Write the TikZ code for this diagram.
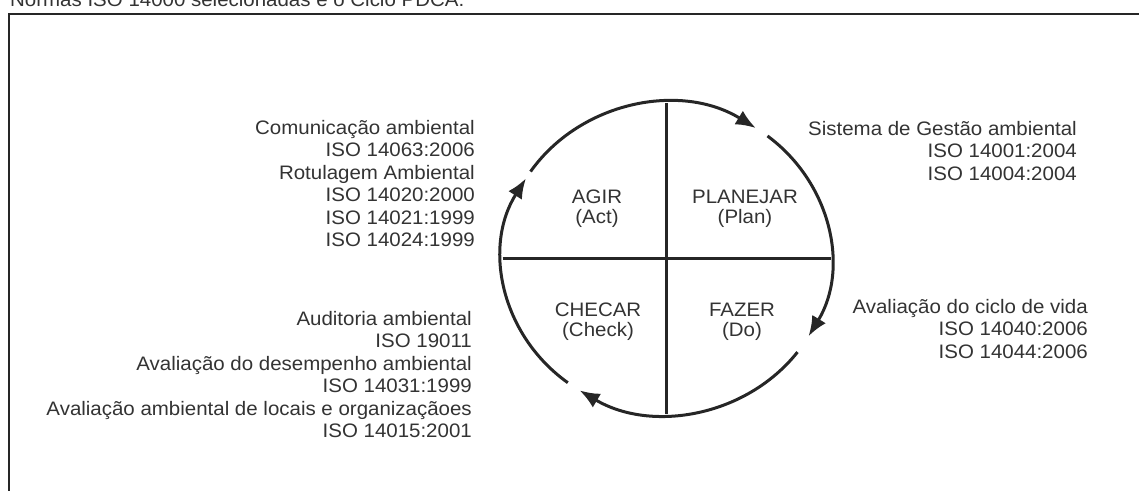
\documentclass[tikz,border=0pt]{standalone}
\usepackage{fontspec}
\setmainfont{Liberation Sans}[FakeStretch=1.05]
\usetikzlibrary{arrows.meta}
\definecolor{textgray}{HTML}{333333}
\definecolor{linegray}{HTML}{262626}

\begin{document}
\begin{tikzpicture}[x=1pt,y=1pt,
	norma/.style={inner sep=0pt,align=right,anchor=north east,text=textgray,font={\fontsize{19.5}{22.5}\selectfont}},
	fase/.style={inner sep=0pt,align=center,text=textgray,font={\fontsize{19.5}{20}\selectfont}},
	ciclo/.style={draw=linegray,line width=3pt,-{Latex[length=20pt,width=16pt]}}]
	\useasboundingbox (0,0) rectangle (1139,-490);
	\clip (0,0) rectangle (1139,-490);
	% titulo e moldura
	\node[anchor=base west,inner sep=0pt,text=textgray,font={\fontsize{19.5}{22.5}\selectfont}] (titulo) at (10,-6.5) {Normas ISO 14000 selecionadas e o Ciclo PDCA.};
	\draw[linegray,line width=2pt] (1150,-14) -- (9,-14) -- (9,-500);
	% ciclo PDCA
	\coordinate (c) at (666.5,-258.5);
	\draw[linegray,line width=3pt] (c) ++(0,155.5) -- ++(0,-311);
	\draw[linegray,line width=3pt] (c) ++(-164,0) -- ++(328,0);
	\foreach \a/\b in {146/57,52/-30,-37/-122,-127/-211}
		\draw[ciclo] (c) ++(\a:164 and 155.5) arc[start angle=\a,end angle=\b,x radius=164,y radius=155.5];
	\node[fase] (agir) at (597,-208.7) {AGIR\\(Act)};
	\node[fase] (planejar) at (745,-208.7) {PLANEJAR\\(Plan)};
	\node[fase] (checar) at (598,-322) {CHECAR\\(Check)};
	\node[fase] (fazer) at (742,-322) {FAZER\\(Do)};
	% normas de cada fase
	\node[norma] (agirNormas) at (475,-120) {Comunicação ambiental\\ISO 14063:2006\\Rotulagem Ambiental\\ISO 14020:2000\\ISO 14021:1999\\ISO 14024:1999};
	\node[norma] (checarNormas) at (472,-311) {Auditoria ambiental\\ISO 19011\\Avaliação do desempenho ambiental\\ISO 14031:1999\\Avaliação ambiental de locais e organizaçãoes\\ISO 14015:2001};
	\node[norma] (planejarNormas) at (1077,-121) {Sistema de Gestão ambiental\\ISO 14001:2004\\ISO 14004:2004};
	\node[norma] (fazerNormas) at (1088,-299) {Avaliação do ciclo de vida\\ISO 14040:2006\\ISO 14044:2006};
\end{tikzpicture}
\end{document}
